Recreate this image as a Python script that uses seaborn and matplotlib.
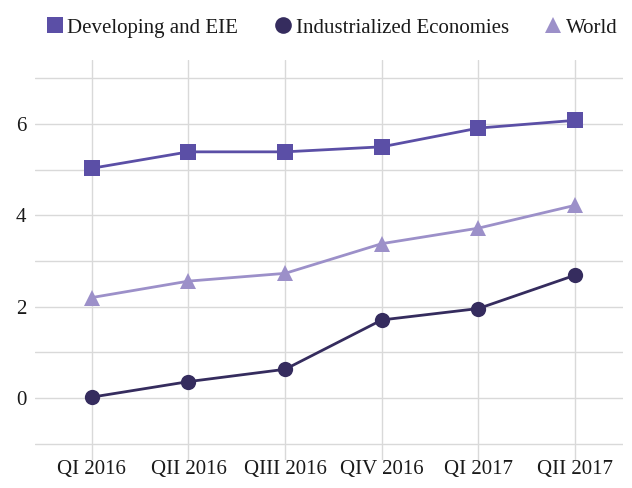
import matplotlib
matplotlib.use("Agg")
import matplotlib.pyplot as plt
import seaborn as sns
import pandas as pd
from matplotlib.ticker import MultipleLocator

quarters = ["QI 2016", "QII 2016", "QIII 2016", "QIV 2016", "QI 2017", "QII 2017"]
developing = [5.03, 5.39, 5.39, 5.50, 5.91, 6.08]
industrialized = [0.02, 0.36, 0.63, 1.71, 1.96, 2.69]
world = [2.20, 2.56, 2.73, 3.38, 3.72, 4.22]

series_names = ["Developing and EIE", "Industrialized Economies", "World"]
colors = ["#5b4fa6", "#352c5e", "#9c90c9"]
markers = ["s", "o", "^"]

df = pd.DataFrame({
    "quarter": quarters * 3,
    "value": developing + industrialized + world,
    "series": [series_names[0]] * 6 + [series_names[1]] * 6 + [series_names[2]] * 6,
})

sns.set_theme(style="white")
plt.rcParams["font.family"] = ["Liberation Serif", "DejaVu Serif"]

fig = plt.figure(figsize=(6.32, 4.88), dpi=100)
ax = fig.add_axes([0.055, 0.057, 0.93, 0.82])

sns.lineplot(data=df, x="quarter", y="value", hue="series", style="series",
             palette=colors, markers=markers, dashes=False, markersize=11,
             markeredgewidth=0, linewidth=2, sort=False, ax=ax, legend=True)

ax.set_xlim(-0.59, 5.49)
ax.set_ylim(-1.36, 7.4)
ax.yaxis.set_major_locator(MultipleLocator(2))
ax.yaxis.set_minor_locator(MultipleLocator(1))
ax.grid(True, which="both", axis="y", color="#d9d9d9", linewidth=1)
ax.grid(True, which="major", axis="x", color="#d9d9d9", linewidth=1)
ax.set_axisbelow(True)
for s in ax.spines.values():
    s.set_visible(False)
ax.set_xlabel("")
ax.set_ylabel("")
ax.tick_params(axis="both", length=0, labelsize=15, colors="#1a1a1a")
ax.tick_params(axis="x", pad=0)
ax.tick_params(axis="y", pad=6)

handles, labels = ax.get_legend_handles_labels()
leg = ax.legend(handles, labels, loc="lower center", bbox_to_anchor=(0.505, 1.035), ncol=3,
                frameon=False, fontsize=15, handlelength=0.9, handletextpad=0.15,
                columnspacing=1.7, borderaxespad=0)
for t in leg.get_texts():
    t.set_color("#1a1a1a")
for h in leg.legend_handles:
    h.set_linestyle("none")
    h.set_markersize(12)

fig.savefig("out.png", dpi=100)
